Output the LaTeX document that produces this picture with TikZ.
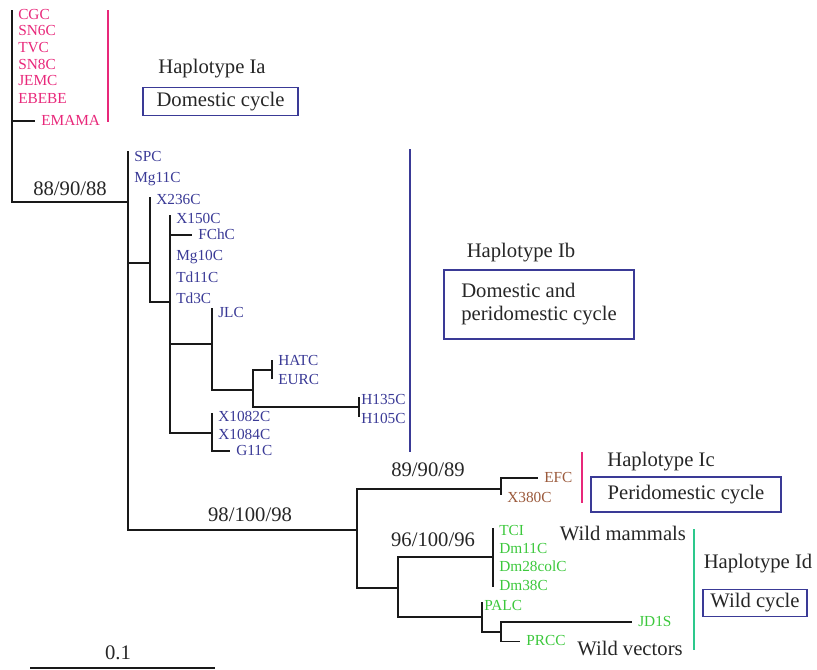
\documentclass[tikz,border=0pt]{standalone}
\usepackage{fontspec}
\setmainfont{Liberation Serif}
\usetikzlibrary{positioning}

\definecolor{hapa}{RGB}{232,40,122}
\definecolor{hapb}{RGB}{58,58,150}
\definecolor{hapc}{RGB}{155,90,60}
\definecolor{hapd}{RGB}{60,200,60}
\definecolor{wildbar}{RGB}{45,200,140}

\begin{document}
\begin{tikzpicture}[x=0.75pt, y=-0.75pt,
    branch/.style={line width=1.1pt, black!90},
    leaf/.style={anchor=west, inner xsep=4.5pt, inner ysep=0pt, text height=0.66em, text depth=0pt, font=\fontsize{11.5}{13}\selectfont},
    big/.style={anchor=base, inner sep=0pt, text=black!85, font=\fontsize{15.5}{18}\selectfont},
    cyclebox/.style={draw=hapb, line width=0.9pt, text=black!85, font=\fontsize{15.5}{17.25}\selectfont},
    groupbar/.style={line width=1.1pt}]
    \useasboundingbox (0,0) rectangle (817,669);

    % inner nodes of the tree
    \coordinate (rtop) at (12,10);
    \coordinate (cB) at (128,202);
    \coordinate (cBtop) at (128,151);
    \coordinate (c236) at (150,263);
    \coordinate (c236top) at (150,197);
    \coordinate (c150) at (170,302);
    \coordinate (c150top) at (170,215);
    \coordinate (cJL) at (212,344);
    \coordinate (cJLtop) at (212,308);
    \coordinate (cH) at (253,390);
    \coordinate (cHE) at (272,370);
    \coordinate (cHEtop) at (272,360);
    \coordinate (cHEbot) at (272,379);
    \coordinate (cH1) at (359,407);
    \coordinate (cH1top) at (359,397);
    \coordinate (cH1bot) at (359,417);
    \coordinate (cX108) at (212,433);
    \coordinate (cX108top) at (212,413);
    \coordinate (cS) at (357,530);
    \coordinate (cEF) at (501,489);
    \coordinate (cEFbot) at (501,495);
    \coordinate (cW) at (398,588);
    \coordinate (cTC) at (493,557);
    \coordinate (cTCtop) at (493,528);
    \coordinate (cTCbot) at (493,587);
    \coordinate (cPA) at (482,617);
    \coordinate (cPAtop) at (482,602);
    \coordinate (cJP) at (501,632);

    % haplotype Ia
    \begin{scope}[every node/.append style={text=hapa}]
        \node[leaf] (cgc) at (12,15) {CGC};
        \node[leaf] (sn6c) at (12,31.5) {SN6C};
        \node[leaf] (tvc) at (12,48.5) {TVC};
        \node[leaf] (sn8c) at (12,65) {SN8C};
        \node[leaf] (jemc) at (12,81.5) {JEMC};
        \node[leaf] (ebebe) at (12,99.5) {EBEBE};
        \node[leaf] (emama) at (35,121) {EMAMA};
    \end{scope}

    % haplotype Ib
    \begin{scope}[every node/.append style={text=hapb}]
        \node[leaf] (spc) at (128,157.5) {SPC};
        \node[leaf] (mg11c) at (128,178) {Mg11C};
        \node[leaf] (x236c) at (150,200) {X236C};
        \node[leaf] (x150c) at (170,219.5) {X150C};
        \node[leaf] (fchc) at (192,235) {FChC};
        \node[leaf] (mg10c) at (170,256) {Mg10C};
        \node[leaf] (td11c) at (170,278) {Td11C};
        \node[leaf] (td3c) at (170,299.5) {Td3C};
        \node[leaf] (jlc) at (212,313.5) {JLC};
        \node[leaf] (hatc) at (272,361) {HATC};
        \node[leaf] (eurc) at (272,380) {EURC};
        \node[leaf] (h135c) at (355,400) {H135C};
        \node[leaf] (h105c) at (355,419.5) {H105C};
        \node[leaf] (x1082c) at (212,417) {X1082C};
        \node[leaf] (x1084c) at (212,435.5) {X1084C};
        \node[leaf] (g11c) at (230,451) {G11C};
    \end{scope}

    % haplotype Ic
    \begin{scope}[every node/.append style={text=hapc}]
        \node[leaf] (efc) at (538,478) {EFC};
        \node[leaf] (x380c) at (501,498) {X380C};
    \end{scope}

    % haplotype Id
    \begin{scope}[every node/.append style={text=hapd}]
        \node[leaf] (tci) at (493,531) {TCI};
        \node[leaf] (dm11c) at (493,549) {Dm11C};
        \node[leaf] (dm28colc) at (493,567.5) {Dm28colC};
        \node[leaf] (dm38c) at (493,586) {Dm38C};
        \node[leaf] (palc) at (478,606) {PALC};
        \node[leaf] (jd1s) at (632,622) {JD1S};
        \node[leaf] (prcc) at (520,641.5) {PRCC};
    \end{scope}

    % branches
    \draw[branch] (rtop) |- (emama.west);
    \draw[branch] (rtop) |- (cB);
    \draw[branch] (cB) -- (cBtop);
    \draw[branch] (cB) |- (c236);
    \draw[branch] (cB) |- (cS);
    \draw[branch] (c236) -- (c236top);
    \draw[branch] (c236) |- (c150);
    \draw[branch] (c150) -- (c150top);
    \draw[branch] (c150) |- (fchc.west);
    \draw[branch] (c150) |- (cJL);
    \draw[branch] (c150) |- (cX108);
    \draw[branch] (cJL) -- (cJLtop);
    \draw[branch] (cJL) |- (cH);
    \draw[branch] (cH) |- (cHE);
    \draw[branch] (cH) |- (cH1);
    \draw[branch] (cHEtop) -- (cHEbot);
    \draw[branch] (cH1top) -- (cH1bot);
    \draw[branch] (cX108) -- (cX108top);
    \draw[branch] (cX108) |- (g11c.west);
    \draw[branch] (cS) |- (cEF);
    \draw[branch] (cS) |- (cW);
    \draw[branch] (cEF) |- (efc.west);
    \draw[branch] (cEF) -- (cEFbot);
    \draw[branch] (cW) |- (cTC);
    \draw[branch] (cW) |- (cPA);
    \draw[branch] (cTCtop) -- (cTCbot);
    \draw[branch] (cPA) -- (cPAtop);
    \draw[branch] (cPA) |- (cJP);
    \draw[branch] (cJP) |- (jd1s.west);
    \draw[branch] (cJP) |- (prcc.west);

    % support values
    \node[big] (s88) at (70,195) {88/90/88};
    \node[big] (s98) at (250,521) {98/100/98};
    \node[big] (s89) at (428,476.5) {89/90/89};
    \node[big] (s96) at (433,546.5) {96/100/96};

    % group bars
    \coordinate (barIa1) at (108,10);
    \coordinate (barIa2) at (108,122);
    \coordinate (barIb1) at (410,149);
    \coordinate (barIb2) at (410,452);
    \coordinate (barIc1) at (582,452);
    \coordinate (barIc2) at (582,503);
    \coordinate (barId1) at (694,529);
    \coordinate (barId2) at (694,650);
    \draw[groupbar, hapa] (barIa1) -- (barIa2);
    \draw[groupbar, hapb] (barIb1) -- (barIb2);
    \draw[groupbar, hapa] (barIc1) -- (barIc2);
    \draw[groupbar, wildbar] (barId1) -- (barId2);

    % haplotype labels and cycles
    \node[big] (hIa) at (212,73) {Haplotype Ia};
    \node[cyclebox, minimum width=116.25pt, minimum height=18.75pt] (cycIa) at (220.5,101.5) {Domestic cycle};
    \node[big] (hIb) at (521,257) {Haplotype Ib};
    \node[cyclebox, align=left, minimum width=142.5pt, minimum height=51.75pt] (cycIb) at (539,304.5) {Domestic and\\peridomestic cycle};
    \node[big] (hIc) at (661,466.5) {Haplotype Ic};
    \node[cyclebox, minimum width=142.5pt, minimum height=26.25pt] (cycIc) at (686,494.5) {Peridomestic cycle};
    \node[big] (mammals) at (623,540) {Wild mammals};
    \node[big] (hId) at (758,568) {Haplotype Id};
    \node[cyclebox, minimum width=78pt, minimum height=19.5pt] (cycId) at (755,603) {Wild cycle};
    \node[big] (vectors) at (630,655) {Wild vectors};

    % scale bar
    \coordinate (bar0) at (30,668);
    \coordinate (bar1) at (215,668);
    \draw[branch] (bar0) -- (bar1);
    \node[big] (scale) at (118,659) {0.1};
\end{tikzpicture}
\end{document}
